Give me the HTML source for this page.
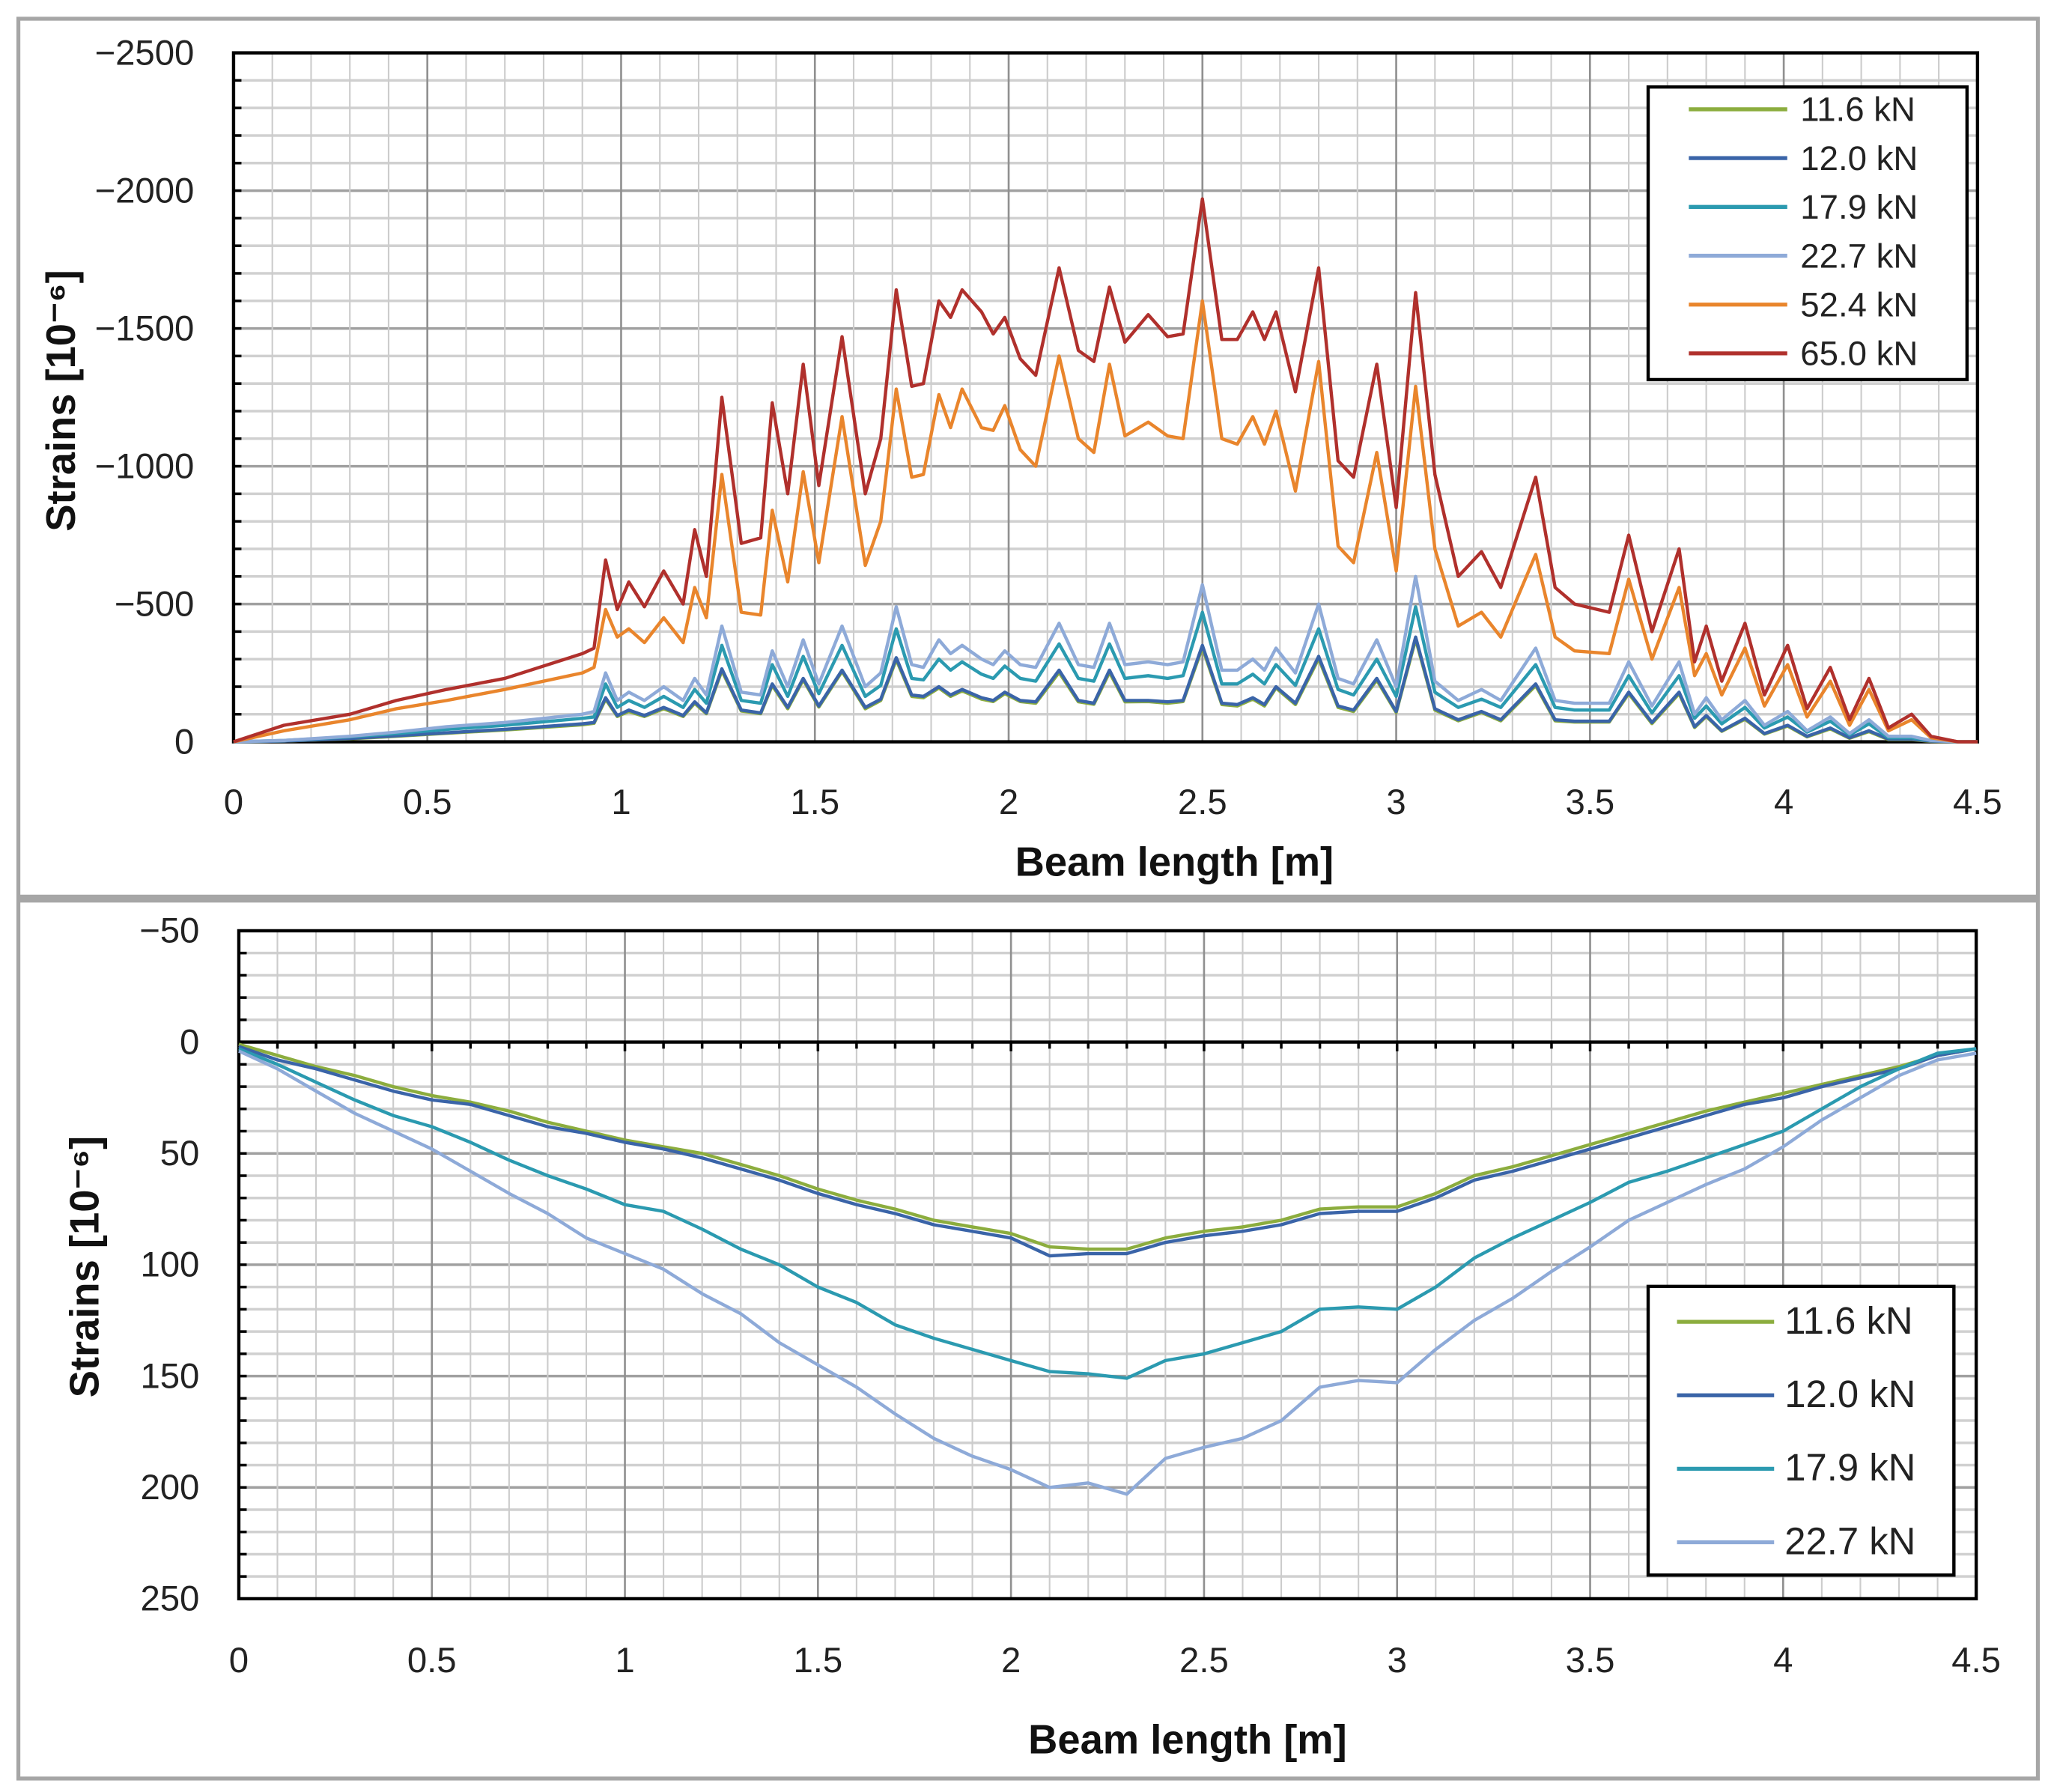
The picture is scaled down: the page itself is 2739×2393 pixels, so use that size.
<!DOCTYPE html>
<html><head><meta charset="utf-8"><style>
html,body{margin:0;padding:0;background:#fff}
svg{display:block}
text{font-family:"Liberation Sans",sans-serif}
</style></head><body>
<svg id="s" width="2739" height="2393" viewBox="0 0 1563 1365" xmlns="http://www.w3.org/2000/svg">
<rect x="14" y="14" width="1539" height="669" fill="#fff" stroke="#a6a6a6" stroke-width="3"/>
<rect x="14" y="686" width="1539" height="669" fill="#fff" stroke="#a6a6a6" stroke-width="3"/>
<g id="top"></g>
<g id="bot"></g>
</svg>
<script>
// ---------- TOP CHART DATA ----------
const topX = [0,0.13,0.3,0.42,0.55,0.7,0.9,0.93,0.96,0.99,1.02,1.06,1.11,1.16,1.19,1.22,1.26,1.31,1.36,1.39,1.43,1.47,1.51,1.57,1.63,1.67,1.71,1.75,1.78,1.82,1.85,1.88,1.93,1.96,1.99,2.03,2.07,2.13,2.18,2.22,2.26,2.3,2.36,2.41,2.45,2.5,2.55,2.59,2.63,2.66,2.69,2.74,2.8,2.85,2.89,2.95,3.0,3.05,3.1,3.16,3.22,3.27,3.36,3.41,3.46,3.55,3.6,3.66,3.73,3.77,3.8,3.84,3.9,3.95,4.01,4.06,4.12,4.17,4.22,4.27,4.33,4.38,4.45,4.5];
const top116 = [0,-3,-11,-20,-31,-43,-62,-67,-155,-92,-110,-92,-120,-92,-140,-102,-258,-112,-102,-205,-120,-225,-126,-255,-120,-150,-298,-165,-160,-195,-165,-185,-155,-146,-175,-146,-140,-252,-145,-136,-252,-145,-146,-140,-146,-342,-135,-130,-155,-130,-195,-135,-302,-125,-110,-224,-106,-372,-115,-76,-106,-76,-204,-76,-72,-72,-175,-66,-175,-52,-92,-38,-82,-28,-57,-18,-47,-13,-37,-8,-8,-2,0,0];
const top120 = [0,-3,-12,-22,-33,-45,-65,-70,-160,-95,-115,-95,-125,-95,-145,-105,-265,-115,-105,-210,-125,-230,-130,-260,-125,-155,-305,-170,-165,-200,-170,-190,-160,-150,-180,-150,-145,-260,-150,-140,-260,-150,-150,-145,-150,-350,-140,-135,-160,-135,-200,-140,-310,-130,-115,-230,-110,-380,-120,-80,-110,-80,-210,-80,-75,-75,-180,-70,-180,-55,-95,-40,-85,-30,-60,-20,-50,-15,-40,-10,-10,-3,0,0];
const top179 = [0,-5,-18,-30,-45,-60,-85,-90,-210,-125,-150,-125,-165,-125,-190,-140,-350,-150,-140,-280,-165,-310,-175,-350,-165,-205,-410,-230,-225,-300,-260,-290,-245,-230,-275,-230,-220,-355,-230,-220,-355,-230,-240,-230,-240,-470,-210,-210,-245,-210,-280,-205,-410,-190,-170,-300,-165,-490,-180,-125,-155,-125,-280,-125,-115,-115,-240,-105,-240,-85,-130,-65,-125,-50,-90,-35,-75,-25,-65,-15,-15,-5,0,0];
const top227 = [0,-5,-20,-35,-55,-70,-100,-110,-250,-150,-180,-150,-200,-150,-230,-170,-420,-180,-170,-330,-200,-370,-210,-420,-200,-250,-490,-280,-270,-370,-320,-350,-300,-280,-330,-280,-270,-430,-280,-270,-430,-280,-290,-280,-290,-570,-260,-260,-300,-260,-340,-250,-500,-230,-210,-370,-200,-600,-220,-150,-190,-150,-340,-150,-140,-140,-290,-130,-290,-100,-160,-80,-150,-60,-110,-40,-90,-30,-80,-20,-20,-5,0,0];
const top524 = [0,-40,-80,-120,-150,-190,-250,-270,-480,-380,-410,-360,-450,-360,-560,-450,-970,-470,-460,-840,-580,-980,-650,-1180,-640,-800,-1280,-960,-970,-1260,-1140,-1280,-1140,-1130,-1220,-1060,-1000,-1400,-1100,-1050,-1370,-1110,-1160,-1110,-1100,-1600,-1100,-1080,-1180,-1080,-1200,-910,-1380,-710,-650,-1050,-620,-1290,-700,-420,-470,-380,-680,-380,-330,-320,-590,-300,-560,-240,-320,-170,-340,-130,-280,-90,-220,-60,-190,-40,-80,-15,0,0];
const top650 = [0,-60,-100,-150,-190,-230,-320,-340,-660,-480,-580,-490,-620,-500,-770,-600,-1250,-720,-740,-1230,-900,-1370,-930,-1470,-900,-1100,-1640,-1290,-1300,-1600,-1540,-1640,-1560,-1480,-1540,-1390,-1330,-1720,-1420,-1380,-1650,-1450,-1550,-1470,-1480,-1970,-1460,-1460,-1560,-1460,-1560,-1270,-1720,-1020,-960,-1370,-850,-1630,-970,-600,-690,-560,-960,-560,-500,-470,-750,-400,-700,-290,-420,-220,-430,-170,-350,-120,-270,-80,-230,-50,-100,-20,0,0];
const topYTicks = [-2500,-2000,-1500,-1000,-500,0];
const topYLabels = ["\u22122500","\u22122000","\u22121500","\u22121000","\u2212500","0"];
const xTicks = [0,0.5,1,1.5,2,2.5,3,3.5,4,4.5];
const xLabels = ["0","0.5","1","1.5","2","2.5","3","3.5","4","4.5"];
const topNames = ["11.6 kN","12.0 kN","17.9 kN","22.7 kN","52.4 kN","65.0 kN"];

// ---------- BOTTOM CHART DATA ----------
const botX = [0,0.1,0.2,0.3,0.4,0.5,0.6,0.7,0.8,0.9,1.0,1.1,1.2,1.3,1.4,1.5,1.6,1.7,1.8,1.9,2.0,2.1,2.2,2.3,2.4,2.5,2.6,2.7,2.8,2.9,3.0,3.1,3.2,3.3,3.4,3.5,3.6,3.7,3.8,3.9,4.0,4.1,4.2,4.3,4.4,4.5];
const bot116 = [1,6,11,15,20,24,27,31,36,40,44,47,50,55,60,66,71,75,80,83,86,92,93,93,88,85,83,80,75,74,74,68,60,56,51,46,41,36,31,27,23,19,15,11,6,3];
const bot120 = [2,8,12,17,22,26,28,33,38,41,45,48,52,57,62,68,73,77,82,85,88,96,95,95,90,87,85,82,77,76,76,70,62,58,53,48,43,38,33,28,25,20,16,12,6,3];
const bot179 = [3,10,18,26,33,38,45,53,60,66,73,76,84,93,100,110,117,127,133,138,143,148,149,151,143,140,135,130,120,119,120,110,97,88,80,72,63,58,52,46,40,30,20,12,5,3];
const bot227 = [4,12,22,32,40,48,58,68,77,88,95,102,113,122,135,145,155,167,178,186,192,200,198,203,187,182,178,170,155,152,153,138,125,115,103,92,80,72,64,57,47,35,25,15,8,5];
const botYTicks = [-50,0,50,100,150,200,250];
const botYLabels = ["\u221250","0","50","100","150","200","250"];
const botNames = ["11.6 kN","12.0 kN","17.9 kN","22.7 kN"];

const colors = ["#8cad3e","#3a64a8","#2b9ab0","#8eaad8","#e9852c","#b0302c"];
const NS = "http://www.w3.org/2000/svg";
function mk(parent, tag, attrs, txt){
  const e = document.createElementNS(NS, tag);
  for (const k in attrs) e.setAttribute(k, attrs[k]);
  if (txt !== undefined) e.textContent = txt;
  parent.appendChild(e);
  return e;
}

function chart(g, cfg){
  const {x0,x1,y0,y1,ymin,ymax} = cfg;
  const sx = v => x0 + (v/4.5)*(x1-x0);
  const sy = v => y0 + (v-ymin)/(ymax-ymin)*(y1-y0);
  // minor horizontal grid
  for (let v=ymin; v<=ymax+1e-9; v+=cfg.minorY){
    const major = Math.abs(((v-ymin)%cfg.majorY))<1e-6;
    const l = mk(g,'line',{x1:x0,x2:x1,y1:sy(v),y2:sy(v),stroke:major?'#a0a0a0':'#d0d0d0','stroke-width':major?2:2});
    
    
    const t = mk(g,'line',{x1:x0,x2:x0+6,y1:sy(v),y2:sy(v),stroke:'#000','stroke-width':2});
    
    
  }
  for (let i=0;i<=45;i++){
    const v=i/10, major=i%5===0;
    const l = mk(g,'line',{x1:sx(v),x2:sx(v),y1:y0,y2:y1,stroke:major?'#909090':'#cccccc','stroke-width':major?1.5:1.2});
    
    
    if (cfg.zeroTicks){
      const t = mk(g,'line',{x1:sx(v),x2:sx(v),y1:sy(0),y2:sy(0)+(major?7:5),stroke:'#000','stroke-width':2});
      
      
    }
  }
  // axis frame
  const fr = mk(g,'rect',{x:x0,y:y0,width:x1-x0,height:y1-y0,fill:'none',stroke:'#000','stroke-width':2.5});
  
  
  if (cfg.zeroLine){
    const z = mk(g,'line',{x1:x0,x2:x1,y1:sy(0),y2:sy(0),stroke:'#000','stroke-width':2.5});
    
    
  }
  cfg.yTicks.forEach((v,i)=>{
    const t = mk(g,'text',{x:x0-30,y:sy(v)+9,'font-size':27,'text-anchor':'end',fill:'#222'},cfg.yLabels[i]);
    
    
  });
  xTicks.forEach((v,i)=>{
    const t = mk(g,'text',{x:sx(v),y:cfg.xLabY,'font-size':27,'text-anchor':'middle',fill:'#222'},xLabels[i]);
    
    
  });
  const xt = mk(g,'text',{x:cfg.xTitleX,y:cfg.xTitleY,'font-size':31,'font-weight':'bold','text-anchor':'middle',fill:'#111'},'Beam length [m]');
  
  
  const yt = mk(g,'text',{x:0,y:0,'font-size':31,'font-weight':'bold','text-anchor':'middle',fill:'#111',transform:`translate(${cfg.yTitleX},${cfg.yTitleY}) rotate(-90)`},'Strains [10\u207B\u2076]');
  
  
  // series
  cfg.series.forEach((s,k)=>{
    const d = cfg.xs.map((v,i)=>(i?'L':'M')+sx(v).toFixed(1)+','+sy(s[i]).toFixed(1)).join(' ');
    const p = mk(g,'path',{d:d,fill:'none',stroke:colors[k],'stroke-width':2.5,'stroke-linejoin':'round'});
    
    
  });
  // legend
  const L = cfg.legend;
  const lb = mk(g,'rect',{x:L.x,y:L.y,width:L.w,height:L.h,fill:'#fff',stroke:'#000','stroke-width':2.5});
  
  
  cfg.names.forEach((n,k)=>{
    const yy = L.first + k*L.step;
    const ln = mk(g,'line',{x1:L.lx0,x2:L.lx1,y1:yy,y2:yy,stroke:colors[k],'stroke-width':3});
    
    
    const tx = mk(g,'text',{x:L.tx,y:yy+9,'font-size':L.fs,fill:'#222'},n);
    
    
  });
}

chart(document.getElementById('top'),{
  x0:178,x1:1507,y0:40,y1:565,ymin:-2500,ymax:0,minorY:100,majorY:500,
  yTicks:topYTicks,yLabels:topYLabels,xLabY:620,xTitleX:895,xTitleY:667,yTitleX:57,yTitleY:305,
  xs:topX,series:[top116,top120,top179,top227,top524,top650],names:topNames,
  zeroTicks:false,zeroLine:false,
  legend:{x:1256,y:66,w:243,h:223,first:83,step:37.2,lx0:1287,lx1:1362,tx:1372,fs:26}
});
chart(document.getElementById('bot'),{
  x0:182,x1:1506,y0:709,y1:1218,ymin:-50,ymax:250,minorY:10,majorY:50,
  yTicks:botYTicks,yLabels:botYLabels,xLabY:1274,xTitleX:905,xTitleY:1336,yTitleX:75,yTitleY:965,
  xs:botX,series:[bot116,bot120,bot179,bot227],names:botNames,
  zeroTicks:true,zeroLine:true,
  legend:{x:1256,y:980,w:233,h:220,first:1007,step:56,lx0:1278,lx1:1352,tx:1360,fs:29}
});
</script>
</body></html>
